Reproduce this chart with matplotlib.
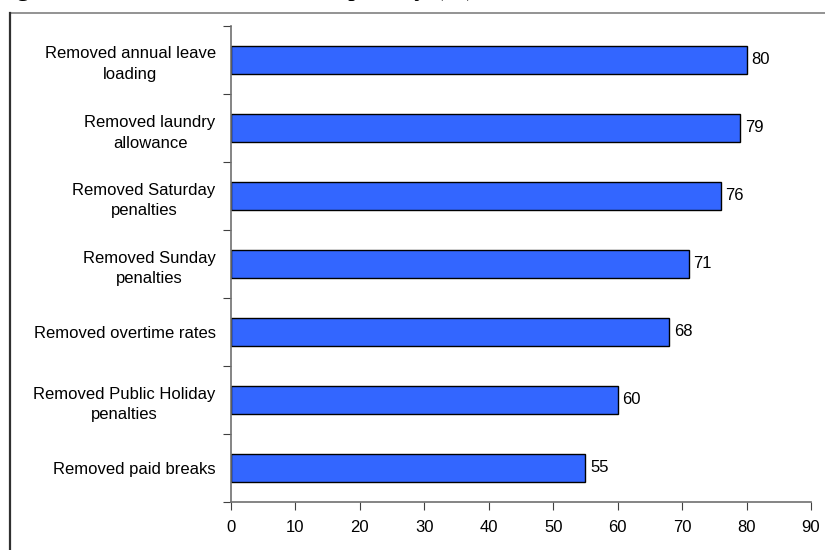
import matplotlib.pyplot as plt
from matplotlib.lines import Line2D

# categories listed top to bottom
categories = [
    "Removed annual leave\nloading",
    "Removed laundry\nallowance",
    "Removed Saturday\npenalties",
    "Removed Sunday\npenalties",
    "Removed overtime rates",
    "Removed Public Holiday\npenalties",
    "Removed paid breaks",
]
values = [80, 79, 76, 71, 68, 60, 55]
x_ticks = [0, 10, 20, 30, 40, 50, 60, 70, 80, 90]

BAR_COLOR = "#3366FF"
AXIS_COLOR = "#707070"
FS = 12

plt.rcParams["font.family"] = ["Liberation Sans", "DejaVu Sans"]

W, H = 825, 550
fig = plt.figure(figsize=(W / 100, H / 100), dpi=100)
ax = fig.add_axes([231 / W, 1 - 502 / H, (811 - 231) / W, (502 - 26) / H])

n = len(categories)
ypos = list(range(n))[::-1]
ax.barh(ypos, values, height=0.4, color=BAR_COLOR, edgecolor="black", linewidth=1.0)

for y, v in zip(ypos, values):
    ax.text(v + 0.75, y, str(v), va="center", ha="left", fontsize=FS)

ax.set_xlim(0, 90)
ax.set_ylim(-0.5, n - 0.5)
ax.set_xticks(x_ticks)
ax.set_xticklabels([str(t) for t in x_ticks], fontsize=FS)

# category labels sit between the ticks, ticks sit on the boundaries
ax.set_yticks([i - 0.5 for i in range(n + 1)])
ax.set_yticklabels([])
ax.set_yticks(ypos, minor=True)
ax.set_yticklabels(categories, minor=True, fontsize=FS, ha="right",
                   multialignment="center", linespacing=1.5)
ax.tick_params(axis="y", which="minor", length=0, pad=11)
ax.tick_params(axis="y", which="major", length=6, direction="out", color="#404040")
ax.tick_params(axis="x", length=6, direction="out", color="#404040", pad=7)

for side in ("top", "right"):
    ax.spines[side].set_visible(False)
for side in ("left", "bottom"):
    ax.spines[side].set_color(AXIS_COLOR)
    ax.spines[side].set_linewidth(1.2)

# outer chart frame (only top and left edges fall inside the image)
fig.add_artist(Line2D([9.5 / W, 1.0], [1 - 13 / H, 1 - 13 / H], color="#808080", lw=1.2))
fig.add_artist(Line2D([9.5 / W, 9.5 / W], [0, 1 - 13 / H], color="#303030", lw=1.6))

# caption above the frame, mostly cut off by the top edge
fig.text(-6 / W, 1 + 4.5 / H, "Figure 2: Effect, share lost from penalty (%)",
         family=["Liberation Serif", "DejaVu Serif"], fontsize=19.5,
         va="baseline", ha="left")

fig.savefig("out.png", dpi=100)
